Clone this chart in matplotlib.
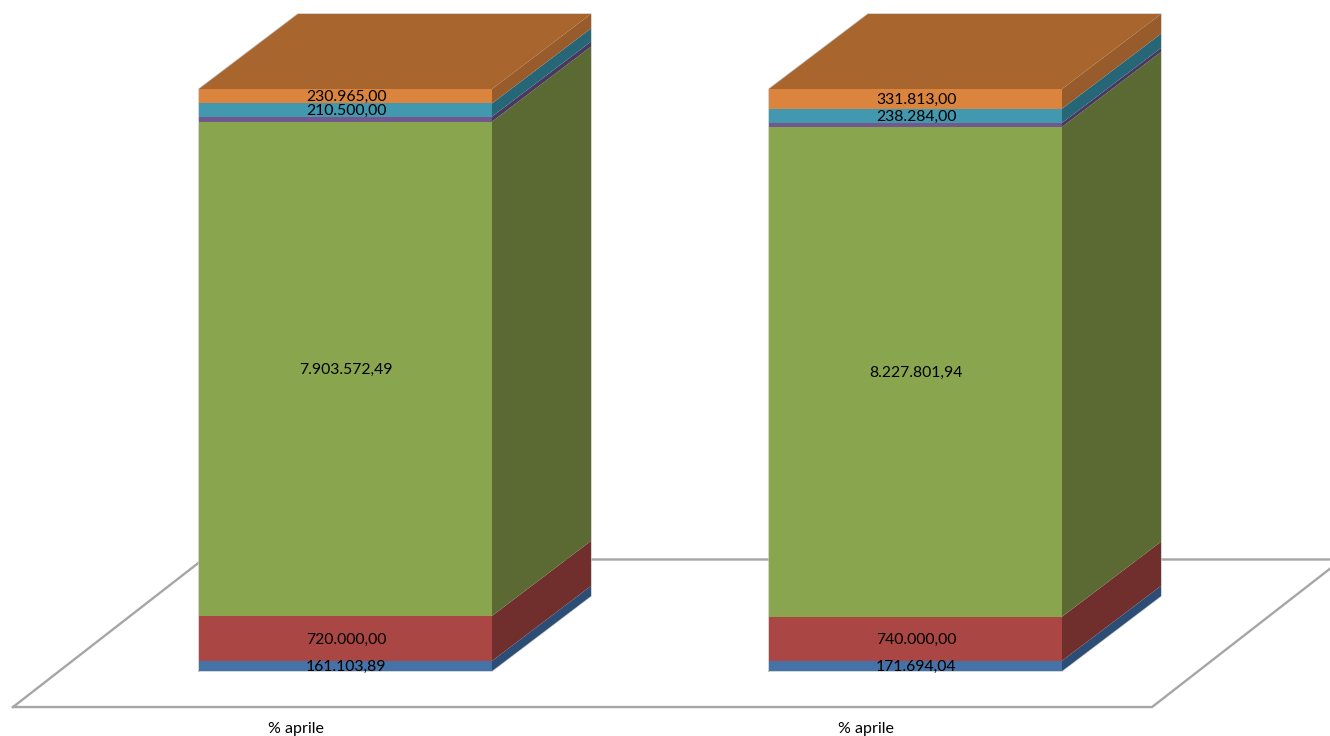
import numpy as np
import matplotlib
matplotlib.use("Agg")
import matplotlib.pyplot as plt

categories = ["% aprile", "% aprile"]
blue = [161103.89, 171694.04]
red = [720000.00, 740000.00]
green = [7903572.49, 8227801.94]
purple = [80000.00, 68000.00]  # no label in the picture, estimated from the height
teal = [210500.00, 238284.00]
orange = [230965.00, 331813.00]

series = [blue, red, green, purple, teal, orange]
labelled = [True, True, True, False, True, True]
front_colors = ["#4572a7", "#aa4643", "#89a54e", "#71588f", "#4198af", "#db843d"]
side_colors = ["#2c4d75", "#702e2c", "#5a6a32", "#49395f", "#266676", "#975b2c"]
top_color = "#a8652e"
line_color = "#a6a6a6"
edge_color = "#c4c4c4"

W, H = 1330, 736
bar_w = 293 / 570
dx = 99 / 570
dy = 75 / 5.82


def euro(v):
    s = f"{v:,.2f}"
    return s.replace(",", "#").replace(".", ",").replace("#", ".")


fig = plt.figure(figsize=(W / 100, H / 100), dpi=100)
ax = fig.add_axes([0, 0, 1, 1])
ax.set_xlim(-345.5 / 570, (W - 345.5) / 570)
ax.set_ylim(-65 / 5.82, 671 / 5.82)
ax.axis("off")
plt.rcParams["font.family"] = ["Lato", "DejaVu Sans"]

# floor of the 3d plot
floor_x = np.array([-0.5833, 1.415, 1.415 + 0.333, -0.5833 + 0.333, -0.5833])
floor_y = np.array([-6.19, -6.19, 19.16, 19.16, -6.19])
ax.plot(floor_x, floor_y, color=line_color, lw=1.7, zorder=1, solid_joinstyle="miter")

values = np.array(series)
shares = values / values.sum(axis=0) * 100
bottoms = np.vstack([np.zeros(2), np.cumsum(shares, axis=0)[:-1]])

for i, cat in enumerate(categories):
    left, right = i - bar_w / 2, i + bar_w / 2
    # faint outline round the whole block
    ax.plot([left, right, right + dx, right + dx, left + dx, left, left],
            [0, 0, dy, 100 + dy, 100 + dy, 100, 0],
            color=edge_color, lw=1.0, zorder=2)
    for j in range(len(series)):
        y0 = bottoms[j, i]
        y1 = y0 + shares[j, i]
        ax.fill([left, right, right, left], [y0, y0, y1, y1],
                color=front_colors[j], lw=0, zorder=3)
        ax.fill([right, right + dx, right + dx, right],
                [y0, y0 + dy, y1 + dy, y1],
                color=side_colors[j], lw=0, zorder=3)
        if labelled[j]:
            ax.text(i + 0.001, (y0 + y1) / 2 - 0.2, euro(values[j, i]), ha="center",
                    va="center", fontsize=11.3, color="black", zorder=4)
    ax.fill([left, right, right + dx, left + dx], [100, 100, 100 + dy, 100 + dy],
            color=top_color, lw=0, zorder=3)
    ax.text(i - dx / 2, -9.97, cat, ha="center", va="center", fontsize=11.5, color="black")

fig.savefig("out.png", dpi=100)
